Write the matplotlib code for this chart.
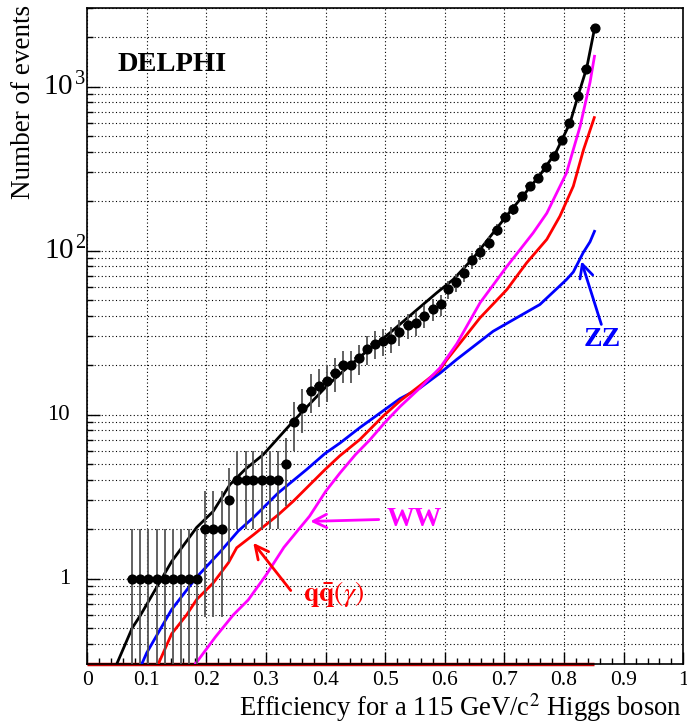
import numpy as np
import matplotlib
matplotlib.use('Agg')
import matplotlib.pyplot as plt
import matplotlib.transforms as mtransforms
from matplotlib.ticker import FixedLocator, FuncFormatter, MultipleLocator, NullFormatter

plt.rcParams['font.family'] = ['Liberation Serif', 'DejaVu Serif']
plt.rcParams['mathtext.fontset'] = 'stix'

# data: cumulative number of selected events vs signal efficiency
eff_data = [0.0745, 0.0884, 0.1023, 0.1164, 0.1304, 0.1433, 0.1572, 0.1711, 0.1846,
            0.1975, 0.2114, 0.2255, 0.2383, 0.2517, 0.2658, 0.2785, 0.2926, 0.3065,
            0.3205, 0.3334, 0.3468, 0.3607, 0.3748, 0.3883, 0.4017, 0.4151, 0.4285,
            0.4424, 0.4559, 0.4698, 0.4832, 0.4966, 0.5101, 0.5235, 0.5376, 0.5515,
            0.5654, 0.5795, 0.5930, 0.6057, 0.6195, 0.6326, 0.6460, 0.6594, 0.6735,
            0.6874, 0.7013, 0.7148, 0.7289, 0.7423, 0.7557, 0.7691, 0.7826, 0.7960,
            0.8087, 0.8228, 0.8368, 0.8513]
n_data = [1, 1, 1, 1, 1, 1, 1, 1, 1,
          2, 2, 2, 3, 4, 4, 4, 4, 4,
          4, 5, 9, 11, 14, 15, 16, 18, 20,
          20, 22, 25, 27, 28, 29, 32, 35, 36,
          40, 44, 47, 58, 64, 73, 87, 98, 111,
          134, 160, 179, 214, 247, 277, 322, 376, 473,
          601, 880, 1285, 2280]

# simulation: total background
eff_tot = [0.0493, 0.0755, 0.0884, 0.1416, 0.1836, 0.2114, 0.2394, 0.2646, 0.2953,
           0.3456, 0.4017, 0.4295, 0.4688, 0.5079, 0.547, 0.5862, 0.614, 0.648,
           0.703, 0.760, 0.7875, 0.810, 0.8267, 0.838, 0.8513]
n_tot = [0.30, 0.50, 0.59, 1.27, 2.05, 2.57, 3.74, 4.62, 5.70,
         9.1, 14.9, 18.4, 24.3, 31.5, 41.7, 55.2, 66.6, 90.3,
         162, 290, 405, 601, 960, 1300, 2280]

# ZZ
eff_zz = [0.0913, 0.0997, 0.1416, 0.1836, 0.2227, 0.2534, 0.2785, 0.3205, 0.368,
          0.399, 0.424, 0.4575, 0.5247, 0.558, 0.592, 0.620, 0.681, 0.7595,
          0.804, 0.8155, 0.832, 0.8435, 0.851]
n_zz = [0.30, 0.352, 0.647, 1.02, 1.45, 1.95, 2.35, 3.33, 4.62,
        5.79, 6.7, 8.33, 12.5, 14.5, 17.9, 21.7, 32.2, 46.9,
        66.5, 74, 97, 113, 131]

# qq(gamma)
eff_qq = [0.119, 0.1275, 0.1416, 0.1667, 0.1836, 0.2114, 0.237, 0.2507, 0.279,
          0.3205, 0.3456, 0.399, 0.4237, 0.4575, 0.4966, 0.5247, 0.558, 0.592,
          0.603, 0.659, 0.704, 0.737, 0.771, 0.793, 0.8155, 0.8327, 0.8507]
n_qq = [0.30, 0.352, 0.46, 0.60, 0.745, 0.94, 1.25, 1.54, 1.85,
        2.45, 2.96, 4.62, 5.6, 7.05, 9.8, 12.1, 15.0, 18.8,
        21.5, 38.9, 57.8, 84, 117, 162, 247, 413, 647]

# WW
eff_ww = [0.181, 0.215, 0.245, 0.27, 0.30, 0.33, 0.355, 0.373, 0.40,
          0.424, 0.45, 0.474, 0.50, 0.525, 0.558, 0.592, 0.62, 0.659,
          0.704, 0.748, 0.771, 0.804, 0.827, 0.8435, 0.851]
n_ww = [0.30, 0.44, 0.60, 0.74, 1.05, 1.55, 2.0, 2.4, 3.4,
        4.4, 5.7, 7.0, 9.0, 11.2, 14.5, 19.3, 27, 48,
        80, 128, 169, 297, 574, 1060, 1530]

y_ticks = [1, 10, 100, 1000]
y_ticklabels = ['1', '10', r'$\mathregular{10^{\,2}}$', r'$\mathregular{10^{\,3}}$']

YMIN, YMAX = 0.3, 3000

fig = plt.figure(figsize=(6.87, 7.24), dpi=100)
ax = fig.add_axes([0.127, 0.0825, 0.8676, 0.906])
ax.set_yscale('log')
ax.set_xlim(0, 1)
ax.set_ylim(YMIN, YMAX)

# dotted grid at every decade sub-division
ax.set_axisbelow(True)
dots = (0, (1, 2.2))
ax.grid(True, which='major', axis='both', linestyle=dots, color='black', lw=0.8)
ax.grid(True, which='minor', axis='y', linestyle=dots, color='black', lw=0.8)

# empty bins drawn along the bottom edge
ax.hlines(YMIN, 0, max(eff_qq), color='#cc0000', lw=2.5, clip_on=False, zorder=2)

ax.plot(eff_tot, n_tot, color='black', lw=2, zorder=3)
ax.plot(eff_zz, n_zz, color='#0000ff', lw=2, zorder=3)
ax.plot(eff_qq, n_qq, color='#ff0000', lw=2, zorder=3)
ax.plot(eff_ww, n_ww, color='#ff00ff', lw=2, zorder=3)

n = np.array(n_data, dtype=float)
err = np.sqrt(n)
ax.errorbar(eff_data, n, yerr=[err, err], xerr=0.008, fmt='none', ecolor='#555555',
            elinewidth=1.3, capsize=0, zorder=4)
ax.plot(eff_data, n, 'o', color='black', ms=6.3, zorder=5)

# axis ticks
ax.xaxis.set_major_locator(MultipleLocator(0.1))
ax.xaxis.set_minor_locator(MultipleLocator(0.02))
ax.xaxis.set_major_formatter(FuncFormatter(lambda v, p: '%g' % round(v, 2)))
ax.yaxis.set_major_locator(FixedLocator(y_ticks))
ax.yaxis.set_minor_locator(FixedLocator([k * 10.0 ** e for e in range(-1, 4)
                                         for k in range(2, 10) if k * 10.0 ** e > YMIN]))
ax.yaxis.set_major_formatter(NullFormatter())
ax.yaxis.set_minor_formatter(NullFormatter())
ax.tick_params(axis='both', which='both', direction='in', top=False, right=False)
ax.tick_params(axis='x', which='major', length=9, width=1, labelsize=15.5, pad=5)
ax.tick_params(axis='x', which='minor', length=4.5, width=1)
ax.tick_params(axis='y', which='major', length=9, width=1)
ax.tick_params(axis='y', which='minor', length=4.5, width=1)
for s in ax.spines.values():
    s.set_linewidth(1.2)

# y labels: plain numbers sit away from the axis, powers of ten sit against it
ytrans = mtransforms.blended_transform_factory(ax.transAxes, ax.transData)
for v, lab in zip(y_ticks, y_ticklabels):
    if lab.startswith('$'):
        ax.text(-0.001, v, lab, transform=ytrans, ha='right', va='center', fontsize=21)
    else:
        ax.text(-0.029, v, lab, transform=ytrans, ha='right', va='center', fontsize=16.5)

fig.text(0.0335, 0.993, 'Number of events', rotation=90, ha='center', va='top', fontsize=19.5)
fig.text(0.993, 0.0105, r'Efficiency for a 115 GeV/c$^{2}$ Higgs boson', ha='right',
         va='baseline', fontsize=19.2)

ax.text(0.0515, 0.9136, 'DELPHI', transform=ax.transAxes, fontsize=20.5, weight='bold',
        ha='left', va='center')

arrow = dict(arrowstyle='->', lw=2, mutation_scale=24, shrinkA=0, shrinkB=0)
ax.annotate('ZZ', xy=(0.829, 86), xytext=(0.864, 28.6), color='#0000ff', fontsize=20,
            weight='bold', ha='center', va='center',
            arrowprops=dict(arrow, color='#0000ff', relpos=(0.5, 1.0)))
ax.annotate('WW', xy=(0.3741, 2.23), xytext=(0.503, 2.29), color='#ff00ff', fontsize=20,
            weight='bold', ha='left', va='center',
            arrowprops=dict(arrow, color='#ff00ff', relpos=(-0.15, 0.5)))
ax.annotate(r'$\mathbf{q\bar{q}}(\gamma)$', xy=(0.2785, 1.65), xytext=(0.362, 0.81),
            color='#ff0000', fontsize=20, ha='left', va='center',
            arrowprops=dict(arrow, color='#ff0000', relpos=(-0.2, 0.6)))

fig.savefig('out.png', dpi=100)
